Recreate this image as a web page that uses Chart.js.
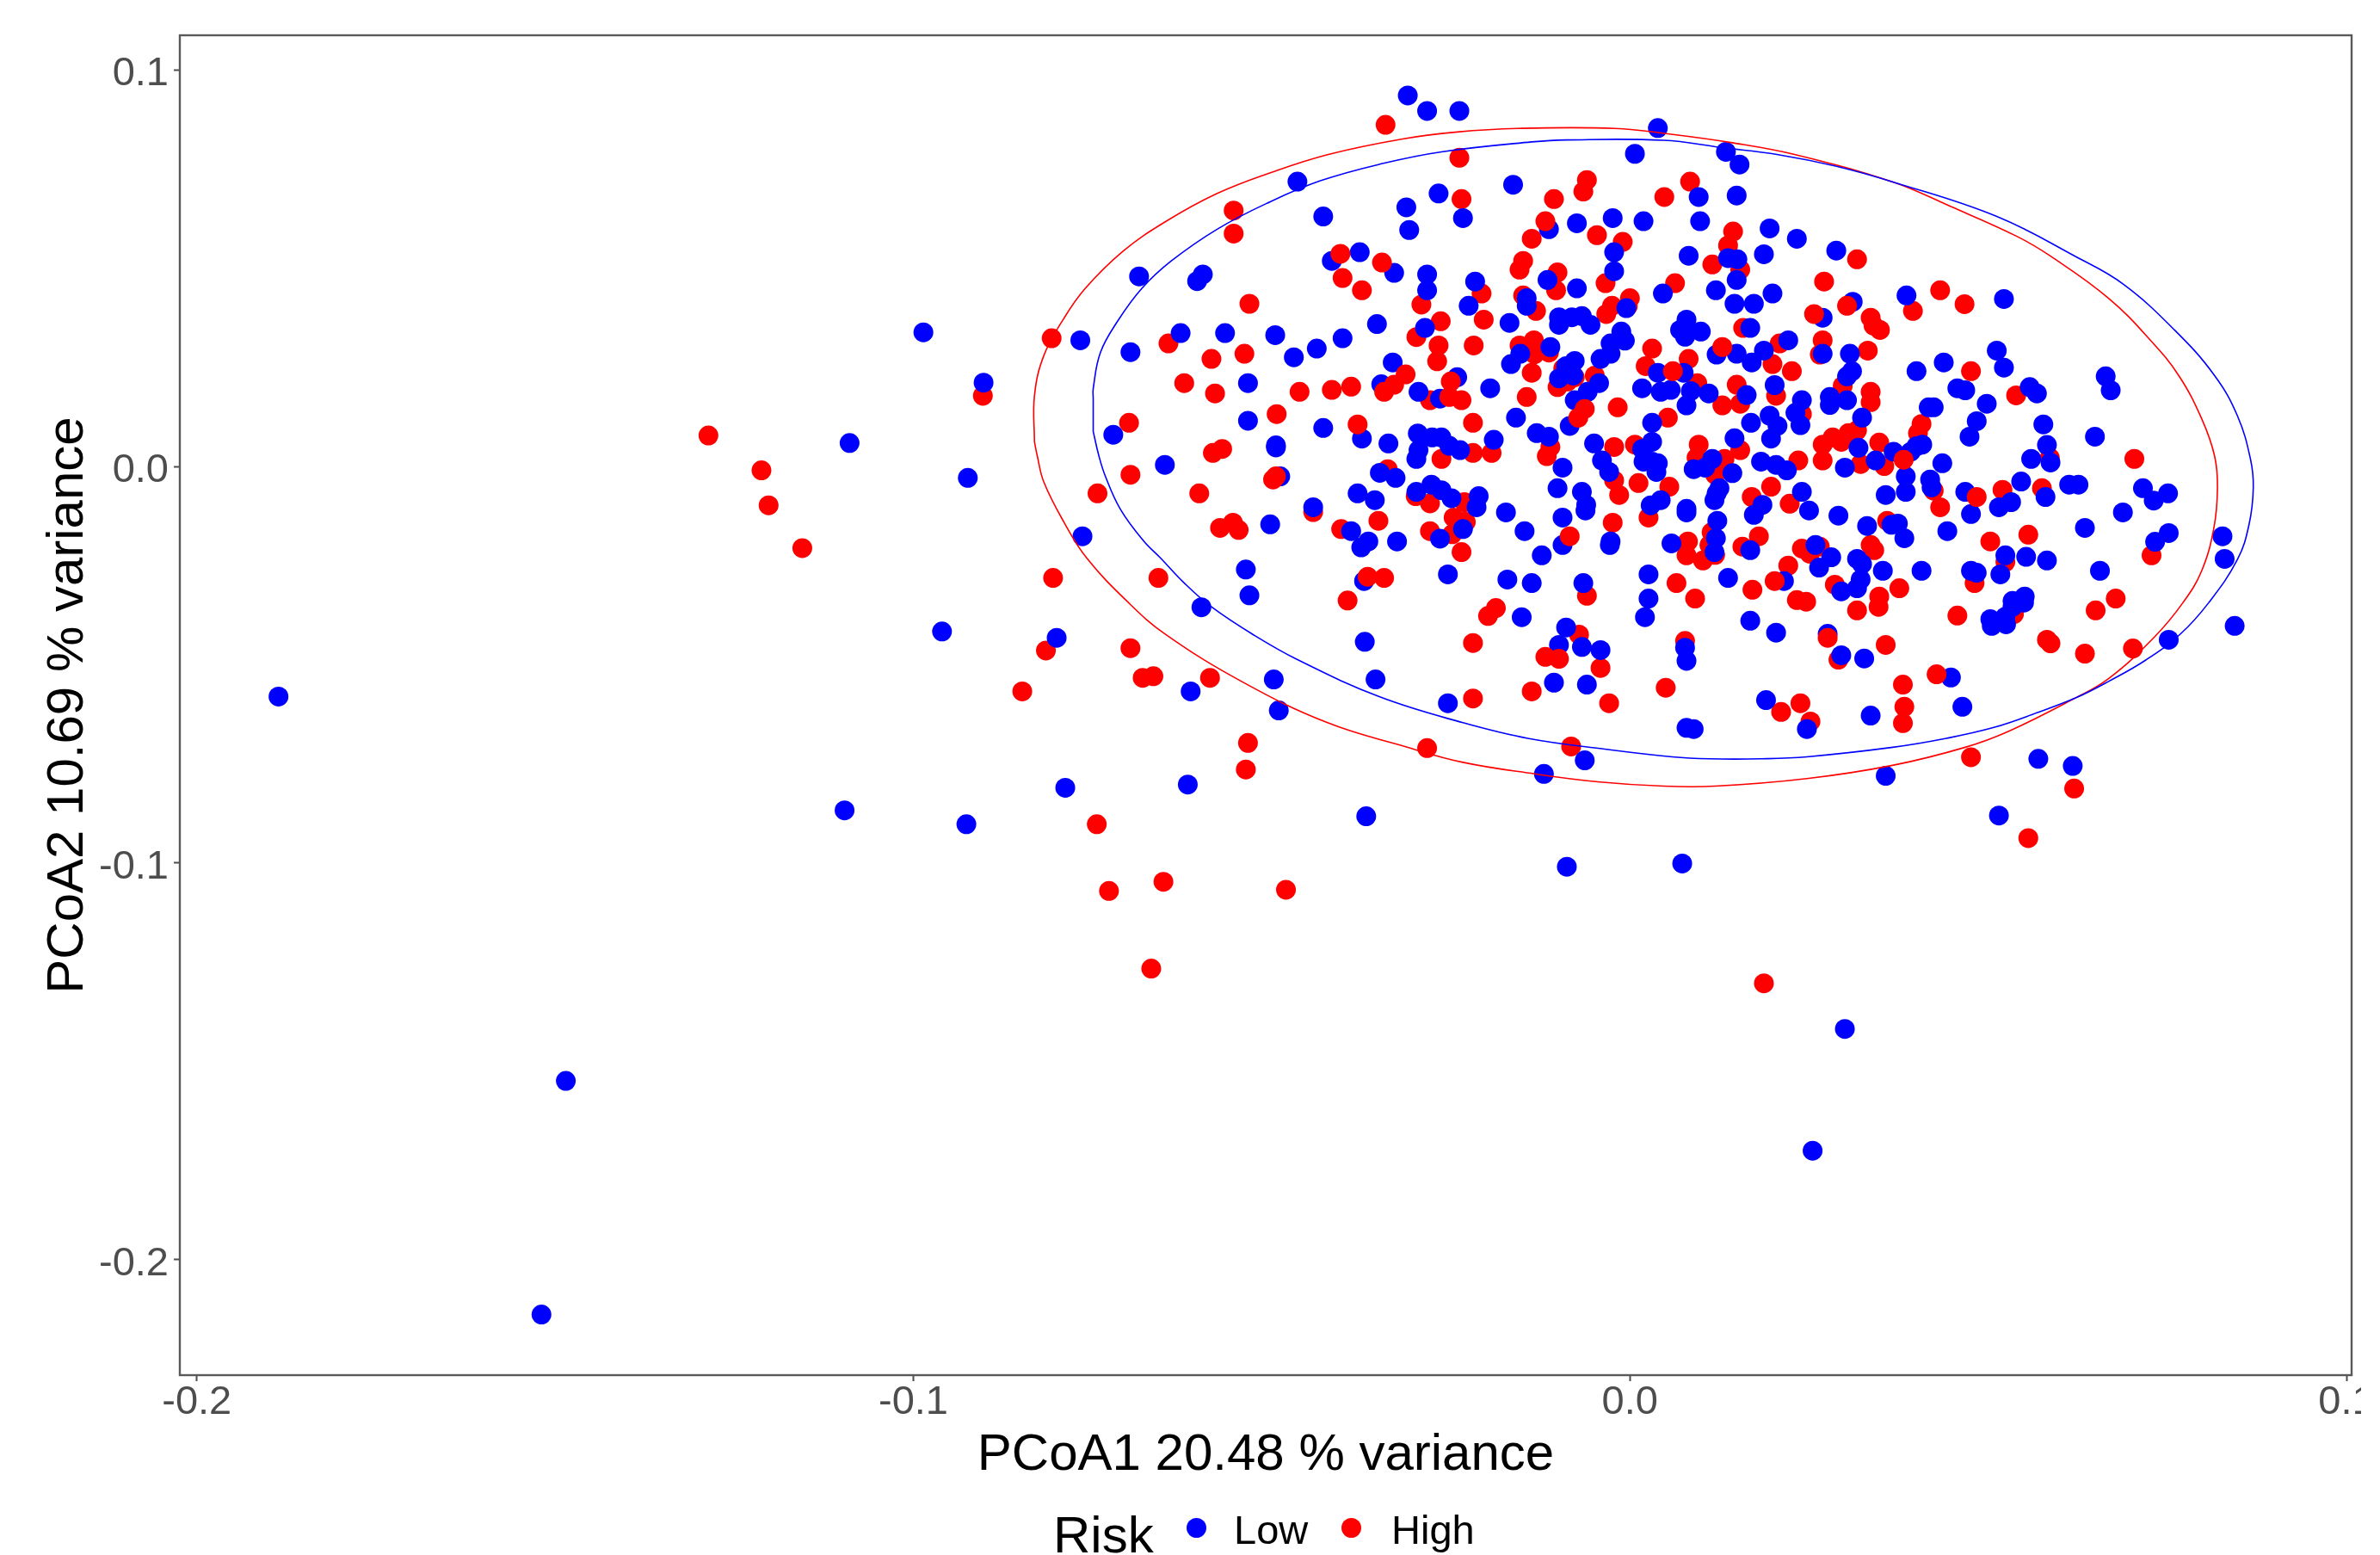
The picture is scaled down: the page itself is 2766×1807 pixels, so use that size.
<!DOCTYPE html>
<html>
<head>
<meta charset="utf-8">
<title>PCoA</title>
<script src="https://cdn.jsdelivr.net/npm/chart.js@4"></script>
<style>
  html,body{margin:0;background:#fff;font-family:"Liberation Sans",Arial,sans-serif}
  #wrap{position:relative;width:2744px;height:1807px;overflow:hidden}
  #leg span{position:absolute;color:#000;line-height:1;white-space:nowrap}
  #leg i{position:absolute;width:23px;height:23px;border-radius:50%}
</style>
</head>
<body>
<div id="wrap">
  <canvas id="c" width="2766" height="1807"></canvas>
  <div id="leg"></div>
</div>
<script>
const xTitle = 'PCoA1 20.48 % variance';
const yTitle = 'PCoA2 10.69 % variance';
const legendTitle = 'Risk';
const xTicks = [-0.2,-0.1,0,0.1];
const yTicks = [-0.2,-0.1,0,0.1];
const BLUE = '#0000ff', RED = '#ff0000';

// [PCoA1, PCoA2]
const lowPts = [
[-.0310,.0935],[-.0283,.0896],[-.0238,.0896],[-.0267,.0688],[-.0464,.0718],[-.0312,.0653],[-.0428,.0630],[-.0308,.0596],[-.0233,.0626],
[-.0377,.0540],[-.0416,.0518],[-.0329,.0488],[-.0685,.0479],[-.0596,.0484],[-.0604,.0467],[-.0283,.0484],[-.0283,.0444],[-.0353,.0359],
[-.0286,.0349],[-.0627,.0336],[-.0565,.0336],[-.0495,.0331],[-.0401,.0323],[-.0767,.0318],[-.0437,.0297],[-.0697,.0288],[-.0469,.0275],
[-.0331,.0262],[-.0533,.0210],[-.0347,.0207],[-.0241,.0225],[-.0295,.0188],[-.0265,.0171],[-.0533,.0115],[-.0428,.0097],[-.0721,.0080],
[-.0374,.0070],[-.0337,.0058],[-.0494,.0053],[-.0494,.0048],[-.0296,.0083],[-.0276,.0073],[-.0263,.0073],[-.0252,.0052],[-.0237,.0041],
[-.0295,.0041],[-.0902,.0211],[-.0649,.0004],[-.0488,-.0025],[-.0349,-.0016],[-.0327,-.0029],[-.0298,.0019],[-.0380,-.0068],[-.0356,-.0085],
[-.0298,-.0064],[-.0277,-.0046],[-.0263,-.0060],[-.0249,-.0080],[-.0442,-.0103],[-.0502,-.0146],[-.0389,-.0163],[-.0365,-.0189],[-.0375,-.0204],
[-.0325,-.0189],[-.0265,-.0182],[-.0233,-.0158],[-.0764,-.0176],[-.0536,-.0260],[-.0531,-.0325],[-.0371,-.0289],[-.0254,-.0272],[-.0598,-.0355],
[-.0800,-.0432],[-.0370,-.0442],[-.0497,-.0537],[-.0355,-.0537],[-.0613,-.0567],[-.0254,-.0597],[-.0490,-.0615],[-.0788,-.0810],[-.0617,-.0802],
[.0039,.0853],[.0007,.0788],[.0134,.0793],[.0153,.0761],[-.0163,.0710],[.0096,.0679],[.0149,.0683],[-.0074,.0613],[-.0024,.0626],[.0019,.0618],
[.0098,.0618],[-.0113,.0598],[.0195,.0600],[.0233,.0574],[-.0022,.0540],[.0082,.0531],[.0187,.0535],[.0288,.0544],[.0137,.0525],[.0150,.0522],
[-.0022,.0492],[.0149,.0470],[-.0115,.0470],[-.0074,.0449],[-.0216,.0466],[.0120,.0444],[.0199,.0436],[.0046,.0436],[.0311,.0415],[-.0225,.0405],
[.0146,.0410],[.0173,.0410],[-.0144,.0424],[-.0144,.0405],[.0269,.0375],[-.0005,.0399],[-.0168,.0362],[-.0099,.0376],[-.0099,.0357],[-.0081,.0376],
[-.0067,.0379],[-.0055,.0357],[.0079,.0370],[.0070,.0344],[.0079,.0347],[.0099,.0340],[.0077,.0327],[.0168,.0349],[-.0012,.0340],[-.0007,.0317],
[-.0027,.0310],[.0221,.0318],[-.0111,.0301],[.0187,.0292],[-.0027,.0284],[.0149,.0284],[.0121,.0282],[.0269,.0284],[.0307,.0284],[-.0153,.0284],
[-.0041,.0271],[-.0166,.0258],[-.0077,.0266],[.0170,.0262],[-.0089,.0253],[.0310,.0240],[.0039,.0236],[.0075,.0236],[-.0099,.0222],[-.0079,.0229],
[-.0043,.0210],[.0303,.0227],[.0017,.0197],[-.0195,.0197],[-.0059,.0188],[.0043,.0188],[.0057,.0193],[.0085,.0190],[.0110,.0184],[.0202,.0205],
[.0163,.0180],[.0279,.0175],[.0279,.0155],[.0303,.0167],[-.0077,.0167],[.0079,.0154],[.0240,.0167],[.0231,.0135],[.0238,.0104],[.0324,.0123],
[.0169,.0110],[.0195,.0128],[.0206,.0102],[.0197,.0070],[-.0159,.0123],[.0031,.0110],[-.0084,.0102],[-.0130,.0084],[-.0113,.0075],[-.0190,.0067],
[-.0050,.0058],[.0146,.0071],[.0031,.0062],[.0017,.0044],[.0319,.0047],
[-.0094,-.0003],[-.0039,.0015],[-.0029,-.0014],[.0019,.0012],[.0031,.0012],[.0037,-.0014],[.0039,.0008],[.0089,-.0007],[.0105,-.0003],[.0115,.0019],
[.0143,-.0017],[.0183,.0012],[.0204,.0004],[.0219,-.0010],[.0300,-.0003],[.0343,.0015],[-.0101,-.0055],[-.0067,-.0064],[-.0061,-.0097],[-.0062,-.0111],
[-.0211,-.0075],[-.0214,-.0103],[-.0173,-.0116],[-.0094,-.0129],[-.0147,-.0163],[.0043,-.0085],[.0029,-.0098],[.0079,-.0107],[.0079,-.0116],[.0125,-.0055],
[.0121,-.0068],[.0118,-.0085],[.0240,-.0064],[.0185,-.0097],[.0173,-.0122],[.0250,-.0111],[.0291,-.0124],[.0357,-.0072],[.0122,-.0137],[.0331,-.0150],
[.0365,-.0147],[.0120,-.0181],[.0118,-.0216],[-.0027,-.0189],[-.0028,-.0198],[-.0094,-.0198],[-.0123,-.0224],[.0058,-.0194],[.0168,-.0211],[.0259,-.0198],
[.0281,-.0229],[.0317,-.0233],[.0324,-.0246],[.0264,-.0255],[.0353,-.0263],[.0137,-.0281],[.0026,-.0272],[.0026,-.0333],[.0021,-.0380],[-.0171,-.0285],
[-.0137,-.0294],[-.0065,-.0294],[.0215,-.0289],[.0322,-.0285],[.0317,-.0307],[.0295,-.0315],[-.0151,-.0380],[.0168,-.0389],[.0204,-.0419],[-.0089,-.0406],
[-.0099,-.0450],[-.0067,-.0455],[-.0041,-.0463],[.0077,-.0457],[.0079,-.0490],[.0276,-.0422],[.0295,-.0476],[.0327,-.0484],[-.0106,-.0545],[-.0060,-.0550],
[.0190,-.0589],[.0336,-.0628],[.0079,-.0659],[.0089,-.0662],[.0247,-.0662],[-.0063,-.0741],[-.0120,-.0775],[.0357,-.0780],
[.0386,.0431],[.0522,.0422],[.0512,.0292],[.0522,.0249],[.0438,.0262],[.0400,.0240],[.0457,.0197],[.0468,.0192],[.0558,.0200],[.0568,.0184],[.0664,.0227],
[.0671,.0192],[.0498,.0158],[.0417,.0149],[.0424,.0149],[.0484,.0114],[.0474,.0075],[.0577,.0106],[.0649,.0075],[.0408,.0055],[.0400,.0051],[.0392,.0037],
[.0368,.0037],[.0582,.0054],[.0560,.0019],[.0587,.0010],[.0436,.0008],[.0385,-.0025],[.0419,-.0033],[.0421,-.0053],[.0385,-.0064],[.0546,-.0038],[.0613,-.0046],
[.0626,-.0046],[.0468,-.0064],[.0580,-.0077],[.0532,-.0090],[.0515,-.0103],[.0716,-.0055],[.0731,-.0086],[.0751,-.0068],[.0688,-.0116],[.0476,-.0120],[.0635,-.0155],
[.0443,-.0163],[.0374,-.0144],[.0383,-.0181],[.0827,-.0176],[.0830,-.0233],[.0752,-.0168],[.0733,-.0190],[.0524,-.0224],[.0553,-.0228],[.0582,-.0237],[.0407,-.0263],
[.0476,-.0263],[.0484,-.0268],[.0517,-.0272],[.0656,-.0263],[.0551,-.0328],[.0534,-.0339],
[.0844,-.0402],[.0752,-.0437],[.0503,-.0385],[.0505,-.0402],[.0525,-.0398],[.0524,-.0379],[.0534,-.0354],[.0550,-.0343],[.0448,-.0532],[.0464,-.0606],[.0570,-.0737],
[.0618,-.0755],[.0515,-.0880],
[-.1886,-.0580],[-.1519,-.2138],[-.1485,-.1549],[-.1089,.0059],[-.1096,-.0867],[-.0924,-.0029],[-.0926,-.0902],[-.0960,-.0416],[-.0986,.0338],[-.0368,-.0882],
[-.0088,-.1009],[.0073,-.1001],[.0300,-.1418],[.0255,-.1725]
];

const highPts = [
[-.0341,.0861],[-.0238,.0778],[-.0235,.0674],[-.0553,.0645],[-.0553,.0587],[-.0401,.0475],[-.0374,.0444],[-.0531,.0410],[-.0291,.0408],[-.0264,.0366],[-.0298,.0326],
[-.0267,.0305],[-.0269,.0265],[-.0807,.0323],[-.0644,.0310],[-.0584,.0271],[-.0538,.0284],[-.0622,.0210],[-.0579,.0184],[-.0461,.0188],[-.0416,.0193],[-.0389,.0201],
[-.0279,.0167],[-.0493,.0132],[-.0569,.0044],[-.0582,.0034],[-.0903,.0178],
[-.0697,-.0021],[-.0743,-.0068],[-.0601,-.0068],[-.0442,-.0115],[-.0403,-.0158],[-.0572,-.0155],[-.0554,-.0142],[-.0546,-.0160],[-.0351,-.0137],[-.0338,-.0007],
[-.0299,-.0075],[-.0279,-.0093],[-.0263,.0019],[-.0805,-.0281],[-.0658,-.0281],[-.0343,-.0281],[-.0394,-.0338],[-.0279,-.0163],[-.0248,-.0171],[-.0246,-.0129],
[-.0231,-.0140],[-.0231,-.0090],[-.0235,-.0216],[-.0815,-.0464],[-.0697,-.0458],[-.0680,-.0533],[-.0665,-.0529],[-.0586,-.0533],[-.0848,-.0567],[-.0533,-.0697],
[-.0536,-.0764],[-.0283,-.0710],
[-.0060,.0722],[-.0065,.0693],[-.0106,.0674],[.0084,.0718],[.0048,.0679],[-.0137,.0574],[-.0046,.0583],[-.0010,.0566],[.0144,.0592],[.0137,.0557],[-.0149,.0518],
[-.0154,.0496],[.0115,.0509],[.0154,.0496],[.0317,.0522],[-.0101,.0489],[-.0103,.0444],[-.0034,.0462],[.0063,.0462],[.0271,.0466],[-.0207,.0436],[-.0149,.0431],
[.0000,.0424],[-.0025,.0405],[-.0003,.0404],[-.0033,.0384],[-.0131,.0392],[.0336,.0375],[.0340,.0355],[.0349,.0344],[-.0204,.0370],[.0158,.0349],[-.0218,.0305],
[.0031,.0297],[-.0154,.0305],[-.0134,.0318],[-.0133,.0283],[-.0113,.0287],[.0209,.0310],[.0269,.0318],[.0332,.0292],[.0265,.0282],[.0082,.0271],[.0022,.0253],
[.0199,.0258],[.0226,.0240],[-.0137,.0236],[-.0093,.0247],[-.0049,.0229],[-.0077,.0225],[-.0101,.0200],[-.0087,.0214],[.0094,.0210],[.0149,.0206],[.0297,.0203],
[.0336,.0188],[-.0144,.0175],[.0204,.0178],[.0154,.0158],[.0129,.0154],[.0336,.0162],[-.0017,.0149],[.0240,.0132],[-.0219,.0110],[.0053,.0123],[.0317,.0091],
[.0305,.0084],[.0283,.0073],[.0295,.0062],[.0269,.0055],[.0348,.0060],[.0007,.0055],[.0096,.0055],[-.0022,.0049],[-.0111,.0049],[-.0219,.0034],[-.0193,.0034],
[-.0116,.0026],[.0154,.0041],
[-.0022,-.0035],[.0012,-.0042],[.0055,-.0051],[-.0015,-.0072],[.0197,-.0051],[.0235,.0015],[.0269,.0015],[.0322,.0006],[.0355,.0001],[.0119,-.0021],[.0129,-.0003],
[.0170,-.0077],[.0223,-.0094],[.0026,-.0129],[-.0024,-.0142],[-.0229,-.0140],[.0081,-.0189],[.0114,-.0166],[.0111,-.0198],[.0180,-.0176],[.0157,-.0202],[.0240,-.0207],
[.0251,-.0220],[.0265,-.0202],[.0336,-.0198],[.0341,-.0211],[.0079,-.0224],[.0102,-.0237],[.0119,-.0223],[.0221,-.0250],[.0065,-.0294],[.0091,-.0333],[.0171,-.0311],
[.0286,-.0298],[.0233,-.0337],[.0246,-.0341],[.0348,-.0328],[.0347,-.0354],[.0317,-.0363],[.0359,-.0137],[-.0060,-.0326],[-.0187,-.0357],[-.0198,-.0377],[-.0219,-.0445],
[-.0071,-.0424],[-.0041,-.0508],[.0077,-.0440],[.0357,-.0450],[.0291,-.0487],[-.0137,-.0567],[-.0219,-.0585],[-.0029,-.0597],[.0050,-.0558],[.0238,-.0597],[.0211,-.0619],
[.0252,-.0643],[-.0082,-.0706],[.0093,.0022],[.0132,.0019],
[.0433,.0444],[.0467,.0409],[.0395,.0392],[.0476,.0240],[.0539,.0179],[.0407,.0107],[.0402,.0084],[.0586,.0022],[.0704,.0019],[.0520,-.0059],[.0575,-.0055],[.0424,-.0061],
[.0433,-.0103],[.0503,-.0189],[.0556,-.0172],[.0728,-.0224],[.0524,-.0241],[.0481,-.0294],[.0376,-.0307],[.0678,-.0333],[.0457,-.0376],[.0650,-.0363],[.0536,-.0372],
[.0582,-.0437],[.0587,-.0446],[.0635,-.0472],[.0702,-.0459],[.0381,-.0550],[.0383,-.0606],[.0381,-.0647],[.0476,-.0733],[.0620,-.0812],[.0556,-.0937],
[-.1286,.0078],[-.1212,-.0010],[-.1202,-.0098],[-.1155,-.0206],[-.0744,-.0902],[-.0727,-.1070],[-.0651,-.1047],[-.0668,-.1266],[-.0480,-.1067],[.0187,-.1303]
];

// reds that sit over the blues
const highTopPts = [
[-.0404,.0536],[-.0346,.0514],[-.0699,.0110],[-.0380,.0106],[-.0498,-.0033],[-.0494,-.0025],[-.0366,-.0278],[-.0250,.0214],[-.0252,.0175],[-.0235,.0167],[-.0118,.0618],
[.0303,.0405],[.0257,.0384],[-.0084,-.0176],[.0276,-.0432],[.0202,-.0289],[-.0063,.0145],[-.0072,.0123],[.0060,.0240],[.0129,.0301],[.0484,-.0077],[.0428,-.0524],
[.0382,.0017],[-.0118,-.0480],[-.0099,-.0485],[-.0343,.0188],[-.0329,.0206],[-.0313,.0232]
];

const lowEllipse = [
[-.0749,.0088],[-.0749,.0171],[-.0749,.0196],[-.0739,.0287],[-.0715,.0366],[-.0681,.0449],[-.0640,.0518],[-.0576,.0598],[-.0507,.0663],[-.0432,.0720],[-.0344,.0764],[-.0263,.0793],
[-.0137,.0818],[-.0089,.0823],[.0047,.0822],[.0127,.0804],[.0207,.0786],[.0287,.0757],[.0367,.0717],[.0512,.0630],[.0624,.0527],[.0688,.0460],[.0760,.0344],[.0816,.0229],
[.0848,.0127],[.0866,.0019],[.0870,-.0053],[.0864,-.0147],[.0848,-.0234],[.0808,-.0343],[.0768,-.0423],[.0720,-.0488],[.0668,-.0542],[.0624,-.0582],[.0568,-.0621],[.0508,-.0658],
[.0440,-.0686],[.0367,-.0708],[.0247,-.0732],[.0183,-.0737],[.0111,-.0737],[.0059,-.0732],[-.0033,-.0713],[-.0141,-.0686],[-.0233,-.0646],[-.0349,-.0581],[-.0464,-.0487],
[-.0524,-.0426],[-.0584,-.0354],[-.0623,-.0292],[-.0655,-.0231],[-.0679,-.0187],[-.0711,-.0108],[-.0732,-.0025],[-.0741,.0026],[-.0749,.0088]
];

const highEllipse = [
[-.0831,.0062],[-.0831,.0178],[-.0818,.0279],[-.0790,.0373],[-.0760,.0449],[-.0707,.0543],[-.0649,.0616],[-.0576,.0688],[-.0499,.0742],[-.0422,.0786],[-.0319,.0825],[-.0241,.0843],
[-.0157,.0852],[-.0021,.0852],[.0055,.0838],[.0143,.0816],[.0231,.0786],[.0367,.0717],[.0448,.0655],[.0540,.0580],[.0588,.0529],[.0668,.0424],[.0726,.0319],[.0766,.0229],
[.0798,.0120],[.0816,.0026],[.0820,-.0053],[.0815,-.0155],[.0798,-.0263],[.0772,-.0343],[.0732,-.0430],[.0668,-.0535],[.0616,-.0589],[.0528,-.0668],[.0468,-.0708],[.0368,-.0753],
[.0247,-.0787],[.0119,-.0806],[.0047,-.0806],[-.0045,-.0795],[-.0133,-.0775],[-.0233,-.0746],[-.0314,-.0706],[-.0422,-.0646],[-.0542,-.0542],[-.0649,-.0422],[-.0700,-.0343],
[-.0758,-.0231],[-.0790,-.0140],[-.0818,-.0039],[-.0827,.0026],[-.0831,.0062]
];

const toXY = a => a.map(p=>({x:p[0],y:p[1]}));
const dots = (label,pts,color) => ({label,data:toXY(pts),backgroundColor:color,borderWidth:0,pointRadius:11.5,pointHoverRadius:11.5,showLine:false});
const ring = (label,pts,color) => ({label,data:toXY(pts),borderColor:color,borderWidth:1.6,pointRadius:0,showLine:true,fill:false,tension:.4});

const TICK = '#4d4d4d';
const FONT = '"Liberation Sans", Arial, sans-serif';

// ggplot panel box, top and right sides too
const panelBox = {
  id:'panelBox',
  afterDraw(chart){
    const a = chart.chartArea, g = chart.ctx;
    g.save();
    g.strokeStyle = '#595959'; g.lineWidth = 2.4;
    g.strokeRect(a.left,a.top,a.right-a.left,a.bottom-a.top);
    g.restore();
  }
};

new Chart(document.getElementById('c'),{
  type:'scatter',
  data:{datasets:[
    ring('Low ellipse',lowEllipse,BLUE),
    ring('High ellipse',highEllipse,RED),
    dots('High',highTopPts,RED),
    dots('Low',lowPts,BLUE),
    dots('High',highPts,RED)
  ]},
  options:{
    responsive:false, animation:false, devicePixelRatio:1,
    layout:{padding:{top:41,right:33,bottom:0,left:0}},
    plugins:{legend:{display:false},tooltip:{enabled:false}},
    scales:{
      x:{
        min:-0.20237,max:0.10072,
        afterBuildTicks:s=>{s.ticks=xTicks.map(v=>({value:v}))},
        afterFit:s=>{s.height=209},
        grid:{drawOnChartArea:false,drawTicks:true,tickLength:7,tickWidth:2,tickColor:TICK},
        border:{display:false},
        ticks:{color:TICK,font:{family:FONT,size:47,lineHeight:1},padding:2,maxRotation:0,autoSkip:false,callback:v=>v.toFixed(1)},
        title:{display:true,text:xTitle,color:'#000',font:{family:FONT,size:60,lineHeight:1},padding:{top:0,bottom:86}}
      },
      y:{
        min:-0.22907,max:0.10868,
        afterBuildTicks:s=>{s.ticks=yTicks.map(v=>({value:v}))},
        afterFit:s=>{s.width=209},
        grid:{drawOnChartArea:false,drawTicks:true,tickLength:7,tickWidth:2,tickColor:TICK},
        border:{display:false},
        ticks:{color:TICK,font:{family:FONT,size:47,lineHeight:1},padding:6,labelOffset:5,autoSkip:false,callback:v=>v.toFixed(1)},
        title:{display:true,text:yTitle,color:'#000',font:{family:FONT,size:60,lineHeight:1},padding:{top:49,bottom:0}}
      }
    }
  },
  plugins:[panelBox]
});

// legend sits inline under the x title, same as ggplot bottom legend
const legendLabels = ['Low','High'];
const legendColors = [BLUE,RED];
const leg = document.getElementById('leg');
leg.innerHTML = `<span style="left:1224px;top:1754px;font-size:60px">${legendTitle}</span>`
  + `<i style="left:1379px;top:1764px;background:${legendColors[0]}"></i><span style="left:1434px;top:1754px;font-size:47px">${legendLabels[0]}</span>`
  + `<i style="left:1559px;top:1764px;background:${legendColors[1]}"></i><span style="left:1617px;top:1754px;font-size:47px">${legendLabels[1]}</span>`;
</script>
</body>
</html>
